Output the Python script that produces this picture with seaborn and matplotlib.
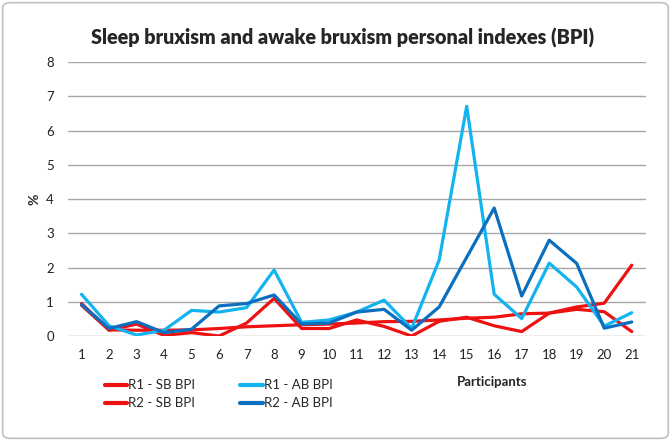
import numpy as np
import pandas as pd
import seaborn as sns
import matplotlib
matplotlib.use("Agg")
import matplotlib.pyplot as plt
from matplotlib.patches import FancyBboxPatch

participants = list(range(1, 22))
r1_sb = [0.95, 0.18, 0.17, 0.17, 0.18, 0.22, 0.27, 0.30, 0.33, 0.35, 0.38,
         0.42, 0.43, 0.47, 0.52, 0.55, 0.65, 0.67, 0.85, 0.96, 2.07]
r2_sb = [0.90, 0.17, 0.35, 0.02, 0.10, 0.00, 0.38, 1.10, 0.22, 0.22, 0.47,
         0.28, 0.00, 0.43, 0.55, 0.30, 0.13, 0.67, 0.78, 0.71, 0.13]
r1_ab = [1.22, 0.30, 0.03, 0.17, 0.75, 0.70, 0.83, 1.93, 0.40, 0.47, 0.70,
         1.05, 0.22, 2.22, 6.71, 1.22, 0.51, 2.13, 1.43, 0.29, 0.68]
r2_ab = [0.92, 0.22, 0.42, 0.10, 0.20, 0.88, 0.95, 1.20, 0.35, 0.38, 0.70,
         0.78, 0.17, 0.85, 2.30, 3.74, 1.17, 2.80, 2.12, 0.23, 0.41]

names = ["R1 - SB BPI", "R2 - SB BPI", "R1 - AB BPI", "R2 - AB BPI"]
colors = {"R1 - SB BPI": "#EE1111", "R2 - SB BPI": "#EE1111",
          "R1 - AB BPI": "#12B3EE", "R2 - AB BPI": "#0B6FC0"}

df = pd.concat([
    pd.DataFrame({"Participants": participants, "value": v, "series": n})
    for n, v in zip(names, [r1_sb, r2_sb, r1_ab, r2_ab])
])

sns.set_style("white")
plt.rcParams["font.family"] = ["Lato", "DejaVu Sans"]

fig = plt.figure(figsize=(6.71, 4.41), dpi=100)
ax = fig.add_axes([0.101, 0.238, 0.861, 0.621])

sns.lineplot(data=df, x="Participants", y="value", hue="series", hue_order=names,
             palette=colors, linewidth=2.3, ax=ax, legend=False)

ax.set_xlim(0.5, 21.5)
ax.set_ylim(0, 8)
ax.set_xticks(participants)
ax.set_yticks(range(0, 9))
ax.tick_params(axis="both", length=0, labelsize=9.5, colors="#222222")
ax.tick_params(axis="x", pad=9)
ax.tick_params(axis="y", pad=10)
ax.yaxis.grid(True, color="#A6A6A6", linewidth=1)
ax.set_axisbelow(True)
for s in ax.spines.values():
    s.set_visible(False)
ax.set_xlabel("")
ax.set_ylabel("%", fontsize=10, fontweight="bold", rotation=90, labelpad=4)

handles = [plt.Line2D([], [], color=colors[n], linewidth=3) for n in names]
fig.legend(handles, names, loc="upper left", bbox_to_anchor=(0.148, 0.152),
           ncol=2, frameon=False, fontsize=9.5, handlelength=1.7,
           handletextpad=0.1, columnspacing=3.4, labelspacing=0.45,
           borderaxespad=0)

fig.text(0.733, 0.133, "Participants", fontsize=9.5, fontweight="bold",
         ha="center", va="center")
fig.text(0.51, 0.915, "Sleep bruxism and awake bruxism personal indexes (BPI)",
         fontsize=14.2, fontweight="heavy", ha="center", va="center")

border = FancyBboxPatch((0.004, 0.006), 0.992, 0.988, boxstyle="round,pad=0,rounding_size=0.012",
                        transform=fig.transFigure, facecolor="none",
                        edgecolor="#BFBFBF", linewidth=1.2)
fig.patches.append(border)

fig.savefig("out.png", dpi=100)
